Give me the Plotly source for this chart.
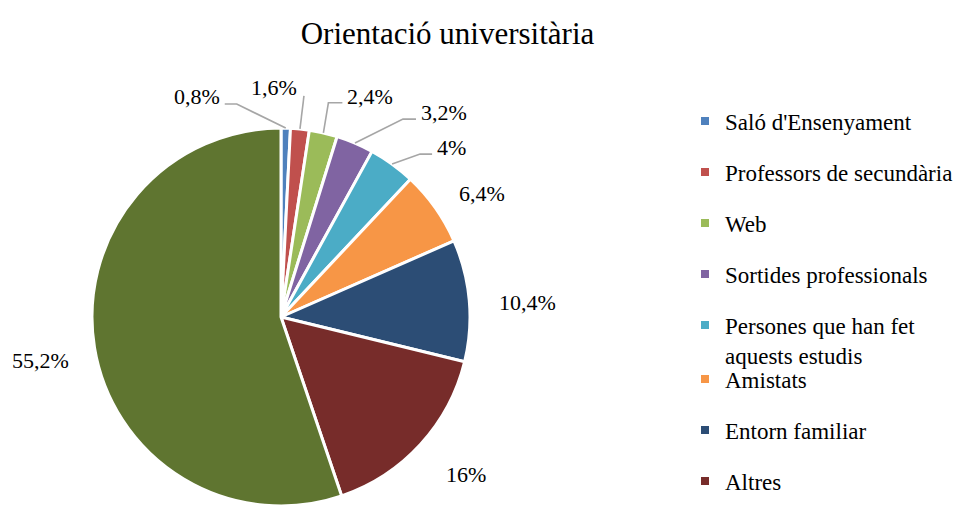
import math
import plotly.graph_objects as go

# ---------------- data ----------------
labels = [
    "Saló d'Ensenyament",
    "Professors de secundària",
    "Web",
    "Sortides professionals",
    "Persones que han fet aquests estudis",
    "Amistats",
    "Entorn familiar",
    "Altres",
    "(sense llegenda)",
]
legend_labels = [
    "Saló d'Ensenyament",
    "Professors de secundària",
    "Web",
    "Sortides professionals",
    "Persones que han fet<br>aquests estudis",
    "Amistats",
    "Entorn familiar",
    "Altres",
]
values = [0.8, 1.6, 2.4, 3.2, 4, 6.4, 10.4, 16, 55.2]
colors = ["#4F81BD", "#C0504D", "#9BBB59", "#8064A2", "#4BACC6",
          "#F79646", "#2C4D75", "#772C2A", "#5F7530"]
title_text = "Orientació universitària"

# ---------------- layout constants ----------------
# the page body has an 8px default margin, so the figure is drawn 8px in
OFF = 8
W, H = 963 - OFF, 506 - OFF
FONT = "Liberation Serif"
label_fs = 22
legend_fs = 23

# pie placement (reference pixel space): centre and radius
PIE_CX, PIE_CY, PIE_R = 281, 317, 189
dom_x = [(PIE_CX - OFF - PIE_R) / W, (PIE_CX - OFF + PIE_R) / W]
dom_y = [1 - (PIE_CY - OFF + PIE_R) / H, 1 - (PIE_CY - OFF - PIE_R) / H]

gap = 28      # distance of label box from pie edge (px)
yshift = 4    # vertical correction of labels (px)
label_nudge = {5: (5, 6), 7: (10, -3), 6: (2, 2), 8: (2, 2)}

# leader-line styling for crowded slices: elbow offset from slice edge,
# horizontal run, and text offset from line end (pixels)
leader = {
    0: dict(elbow=(-49, -24), run=-12, text=(-3, -8), anchor="right"),
    1: dict(elbow=(4, -33), run=0, text=(-5, -8), anchor="right"),
    2: dict(elbow=(5, -30), run=14, text=(3, -6), anchor="left"),
    3: dict(elbow=(48, -24), run=13, text=(3, -7), anchor="left"),
    4: dict(elbow=(28, -10), run=12, text=(3, -7), anchor="left"),
}

def fmt(v):
    return f"{v:g}".replace(".", ",") + "%"

def text_width(t, fs):
    w = 0.0
    for ch in t:
        w += {",": 0.25, "%": 0.833}.get(ch, 0.5)
    return w * fs

texts = [fmt(v) for v in values]

fig = go.Figure()
fig.add_trace(go.Pie(
    labels=labels, values=values, sort=False, direction="clockwise",
    rotation=0, textinfo="none", hoverinfo="label+percent",
    marker=dict(colors=colors, line=dict(color="white", width=3)),
    domain=dict(x=dom_x, y=dom_y), showlegend=False,
))

# legend entries (the original legend is cut off after 8 items)
for i, (lab, col) in enumerate(zip(legend_labels, colors[:8])):
    fig.add_trace(go.Scatter(
        x=[None], y=[None], mode="markers", name=lab,
        marker=dict(symbol="square", size=8, color=col),
        legendgroup=f"g{i}", legend="legend" if i < 5 else "legend2",
        hoverinfo="skip",
    ))

# pie geometry in reference pixels (from top-left), derived from the domain
cx = (dom_x[0] + dom_x[1]) / 2 * W + OFF
cy = H - (dom_y[0] + dom_y[1]) / 2 * H + OFF
R = min((dom_x[1] - dom_x[0]) * W, (dom_y[1] - dom_y[0]) * H) / 2
total = sum(values)

def px2paper(x, y):
    return (x - OFF) / W, 1 - (y - OFF) / H

annotations = []
shapes = []
cum = 0.0
for i, (v, t) in enumerate(zip(values, texts)):
    mid = (cum + v / 2) / total * 2 * math.pi
    cum += v
    s, c = math.sin(mid), math.cos(mid)
    if i in leader:
        L = leader[i]
        x0, y0 = cx + R * s, cy - R * c
        ex, ey = x0 + L["elbow"][0], y0 + L["elbow"][1]
        ax_, ay_ = ex + L["run"], ey
        pts = [px2paper(x0, y0), px2paper(ex, ey), px2paper(ax_, ay_)]
        path = "M " + " L ".join(f"{px},{py}" for px, py in pts)
        shapes.append(dict(type="path", path=path, xref="paper", yref="paper",
                           line=dict(color="#A6A6A6", width=1.6)))
        tx, ty = ax_ + L["text"][0], ay_ + L["text"][1]
        px_, py_ = px2paper(tx, ty)
        annotations.append(dict(x=px_, y=py_, xref="paper", yref="paper",
                                text=t, showarrow=False, xanchor=L["anchor"],
                                yanchor="middle",
                                font=dict(family=FONT, size=label_fs, color="black")))
    else:
        w = text_width(t, label_fs)
        h = 1.3 * label_fs
        px0, py0 = cx + (R + gap) * s, cy - (R + gap) * c
        nx, ny = label_nudge.get(i, (0, 0))
        tx, ty = px0 + s * w / 2 + nx, py0 - c * h / 2 + yshift + ny
        px_, py_ = px2paper(tx, ty)
        annotations.append(dict(x=px_, y=py_, xref="paper", yref="paper",
                                text=t, showarrow=False, xanchor="center",
                                yanchor="middle",
                                font=dict(family=FONT, size=label_fs, color="black")))

item_h = legend_fs * 1.3 + 3
item_step = 51
legend_common = dict(
    font=dict(family=FONT, size=legend_fs, color="black"),
    xanchor="left", yanchor="top", valign="top",
    tracegroupgap=item_step - item_h, bgcolor="rgba(0,0,0,0)", borderwidth=0,
)
first_item_y = [121, 379]  # reference pixel centres of first item of each legend
legend_tops = [y - 5 - item_h / 2 for y in first_item_y]

fig.update_layout(
    width=W, height=H,
    margin=dict(l=0, r=0, t=0, b=0),
    paper_bgcolor="white", plot_bgcolor="white",
    font=dict(family=FONT, color="black"),
    title=dict(text=title_text, x=(447.5 - OFF) / W, xanchor="center",
               y=1 - (33 - OFF) / H, yanchor="middle", yref="container",
               font=dict(family=FONT, size=31, color="black")),
    xaxis=dict(visible=False), yaxis=dict(visible=False),
    legend=dict(x=(685 - OFF) / W, y=1 - (legend_tops[0] - OFF) / H, **legend_common),
    legend2=dict(x=(685 - OFF) / W, y=1 - (legend_tops[1] - OFF) / H, **legend_common),
    annotations=annotations, shapes=shapes,
    showlegend=True,
)

fig.write_html("out.html")
